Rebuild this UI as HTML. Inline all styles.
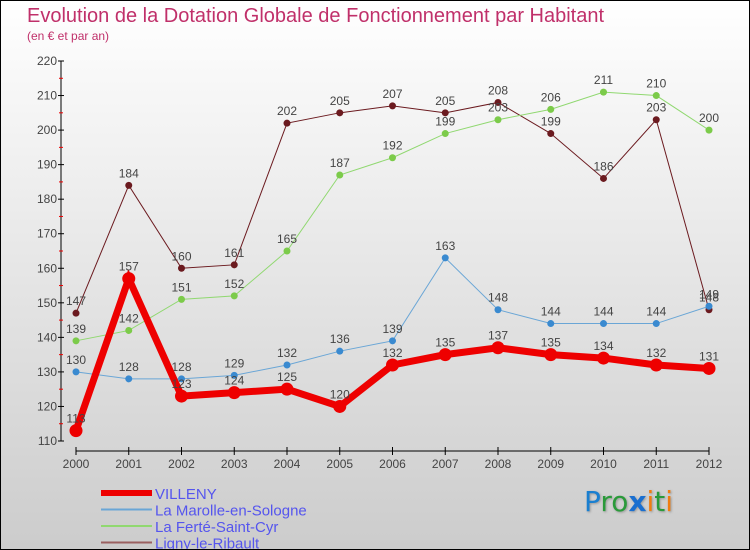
<!DOCTYPE html>
<html><head><meta charset="utf-8"><style>
body{margin:0}
#wrap{position:relative;width:748px;height:548px;border:1px solid #000;background:linear-gradient(#fff,#ccc);font-family:"Liberation Sans",sans-serif;overflow:hidden}
.t{position:absolute;color:#c0306a}
</style></head><body>
<div id="wrap">
<div class="t" style="left:26px;top:4px;font-size:20px">Evolution de la Dotation Globale de Fonctionnement par Habitant</div>
<div class="t" style="left:26px;top:28px;font-size:12px">(en € et par an)</div>
<svg id="svg" width="748" height="548" style="position:absolute;left:0;top:0" font-family="Liberation Sans, sans-serif"></svg>
<div style="position:absolute;left:583px;top:484px;font-size:28px;font-family:'DejaVu Sans',sans-serif;text-shadow:1px 1px 2px #999"><span style="color:#1a7fd0">P</span><span style="color:#2a9a3a">ro</span><span style="color:#1a6fd0;font-weight:bold">x</span><span style="color:#f07d10">i</span><span style="color:#2a9a3a">t</span><span style="color:#f07d10">i</span></div>
</div>
<script>
const years=[2000,2001,2002,2003,2004,2005,2006,2007,2008,2009,2010,2011,2012];
const villeny=[113,157,123,124,125,120,132,135,137,135,134,132,131];
const marolle=[130,128,128,129,132,136,139,163,148,144,144,144,149];
const ferte=[139,142,151,152,165,187,192,199,203,206,211,210,200];
const ligny=[147,184,160,161,202,205,207,205,208,199,186,203,148];
const yTicks=[110,120,130,140,150,160,170,180,190,200,210,220];
const NS='http://www.w3.org/2000/svg';
const svg=document.getElementById('svg');
const x=i=>75+i*(708-75)/(years.length-1);
const y=v=>440-(v-110)*(380/110);
function mk(t,a,p){const e=document.createElementNS(NS,t);for(const k in a)e.setAttribute(k,a[k]);(p||svg).appendChild(e);return e;}
let e;
e=mk('line',{x1:60,y1:60,x2:60,y2:440,stroke:'#000'});


e=mk('line',{x1:75,y1:450,x2:708,y2:450,stroke:'#000'});


yTicks.forEach(v=>{
 mk('line',{x1:57,x2:63,y1:y(v),y2:y(v),stroke:'#000'});
 if(v<220)mk('line',{x1:58,x2:62,y1:y(v+5),y2:y(v+5),stroke:'#e00'});
 e=mk('text',{x:56,y:y(v)+4,'text-anchor':'end','font-size':12,fill:'#444'});e.textContent=v;
 
 
});
years.forEach((yr,i)=>{
 mk('line',{x1:x(i),x2:x(i),y1:446,y2:454,stroke:'#000'});
 e=mk('text',{x:x(i),y:467,'text-anchor':'middle','font-size':12,fill:'#444'});e.textContent=yr;
 
 
});
const series=[
 {d:ligny,c:'#6b1a1f',w:1,r:3.5,n:'ligny'},
 {d:ferte,c:'#90d870',w:1,r:3.5,fc:'#7ccb4a',n:'ferte'},
 {d:marolle,c:'#6aa6d6',w:1,r:3.5,fc:'#3a8ad0',n:'marolle'},
 {d:villeny,c:'#ee0000',w:7,r:6.5,n:'villeny'}];
series.forEach(s=>{
 e=mk('polyline',{points:s.d.map((v,i)=>x(i)+','+y(v)).join(' '),fill:'none',stroke:s.c,'stroke-width':s.w});
 
 
 s.d.forEach((v,i)=>{
  e=mk('circle',{cx:x(i),cy:y(v),r:s.r,fill:s.fc||s.c});
  
  
  e=mk('text',{x:x(i),y:y(v)-8,'text-anchor':'middle','font-size':12,fill:'#444'});e.textContent=v;
  
  
 });
});
const leg=[['VILLENY','#ee0000',6],['La Marolle-en-Sologne','#6aa6d6',2],['La Ferté-Saint-Cyr','#90d870',2],['Ligny-le-Ribault','#9a6060',2]];
leg.forEach((l,i)=>{
 const ly=492+i*16.5;
 e=mk('line',{x1:100,x2:151,y1:ly,y2:ly,stroke:l[1],'stroke-width':l[2]});
 
 
 e=mk('text',{x:154,y:ly+6,'font-size':15,fill:'#5555ee'});e.textContent=l[0];
 
 
});
</script>
</body></html>
